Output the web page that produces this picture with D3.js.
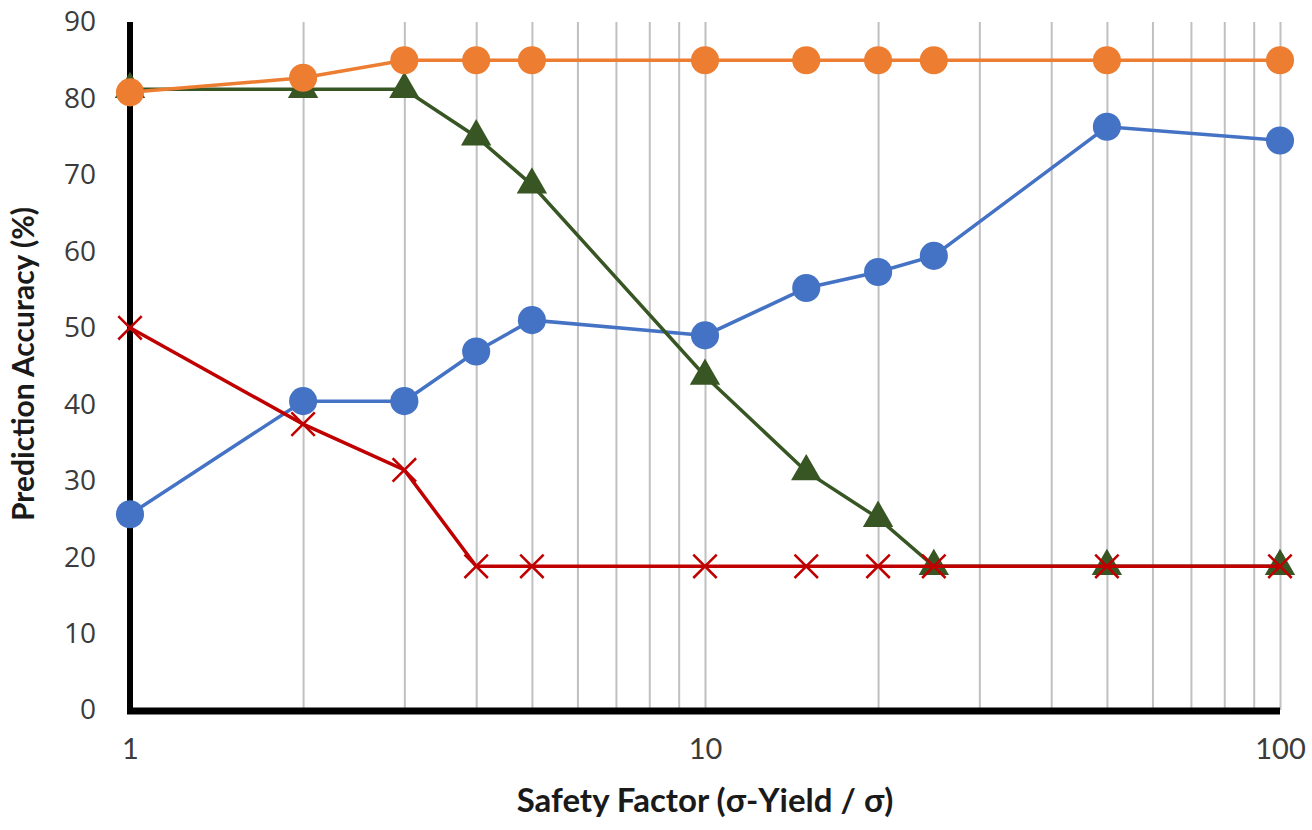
<!DOCTYPE html>
<html>
<head>
<meta charset="utf-8">
<script src="https://cdn.jsdelivr.net/npm/d3@7"></script>
<style>
  body { margin: 0; background: #fff; }
</style>
</head>
<body>
<div id="chart"></div>
<script>
// safety factor values (x) and the four accuracy series (%)
const factors = [1, 2, 3, 4, 5, 10, 15, 20, 25, 50, 100];
const blueVals = [25.6, 40.4, 40.4, 46.9, 51.0, 49.0, 55.2, 57.3, 59.4, 76.3, 74.5];
const orangeVals = [80.8, 82.7, 85.0, 85.0, 85.0, 85.0, 85.0, 85.0, 85.0, 85.0, 85.0];
const greenVals = [81.2, 81.2, 81.2, 75.0, 68.7, 43.7, 31.2, 25.1, 18.8, 18.8, 18.8];
const redVals = [50.0, 37.4, 31.4, 18.8, 18.8, 18.8, 18.8, 18.8, 18.8, 18.8, 18.8];
const yTicks = [0, 10, 20, 30, 40, 50, 60, 70, 80, 90];
const xTicks = [1, 10, 100];
const gridVals = [2, 3, 4, 5, 6, 7, 8, 9, 10, 20, 30, 40, 50, 60, 70, 80, 90, 100];

var margin = {top: 22, right: 32, bottom: 120, left: 130},
    width = 1312 - margin.left - margin.right,
    height = 830 - margin.top - margin.bottom;

var svg = d3.select("#chart").append("svg")
        .attr("width", 1312)
        .attr("height", 830)
    .append("g")
        .attr("transform", "translate(" + margin.left + "," + margin.top + ")");

var x = d3.scaleLog()
    .domain([1, 100])
    .range([0, width]);

var y = d3.scaleLinear()
    .domain([0, 90])
    .range([height, 0]);

// vertical gridlines
svg.append("g")
    .attr("transform", "translate(0," + height + ")")
    .call(d3.axisBottom(x).tickValues(gridVals).tickSize(-height).tickFormat(""))
    .call(g => g.select(".domain").remove())
    .call(g => g.selectAll("line").attr("stroke", "#c0c0c0").attr("stroke-width", 2));

// y axis
svg.append("g")
    .call(d3.axisLeft(y).tickValues(yTicks).tickSize(0).tickPadding(34))
    .call(g => g.select(".domain").remove())
    .call(g => g.selectAll("text")
        .attr("font-family", "'Open Sans', sans-serif")
        .attr("font-size", "28px")
        .attr("fill", "#3b3b3b"));

// x axis
svg.append("g")
    .attr("transform", "translate(0," + height + ")")
    .call(d3.axisBottom(x).tickValues(xTicks).tickSize(0).tickPadding(28).tickFormat(d3.format("d")))
    .call(g => g.select(".domain").remove())
    .call(g => g.selectAll("text")
        .attr("font-family", "Lato, sans-serif")
        .attr("font-size", "29px")
        .attr("fill", "#3b3b3b"));

// thick axis lines
svg.append("line")
    .attr("x1", 0).attr("x2", 0)
    .attr("y1", 0).attr("y2", height + 3)
    .attr("stroke", "#000").attr("stroke-width", 6);
svg.append("line")
    .attr("x1", -3).attr("x2", width)
    .attr("y1", height + 1).attr("y2", height + 1)
    .attr("stroke", "#000").attr("stroke-width", 7);

var series = [
    {vals: blueVals, color: "#4472C4", shape: d3.symbolCircle, size: 620, stroke: false},
    {vals: greenVals, color: "#375623", shape: d3.symbolTriangle, size: 400, stroke: false},
    {vals: orangeVals, color: "#ED7D31", shape: d3.symbolCircle, size: 620, stroke: false},
    {vals: redVals, color: "#C00000", shape: d3.symbolX, size: 360, stroke: true}
];

var line = d3.line()
    .x((d, i) => x(factors[i]))
    .y(d => y(d));

series.forEach((s) => {
    svg.append("path")
        .datum(s.vals)
        .attr("fill", "none")
        .attr("stroke", s.color)
        .attr("stroke-width", 3.5)
        .attr("d", line);

    svg.selectAll(null)
        .data(s.vals)
        .enter()
        .append("path")
            .attr("transform", (d, i) => "translate(" + x(factors[i]) + "," + y(d) + ")")
            .attr("d", d3.symbol(s.shape, s.size))
            .attr("fill", s.stroke ? "none" : s.color)
            .attr("stroke", s.stroke ? s.color : "none")
            .attr("stroke-width", 2.5);
});

// axis titles
svg.append("text")
    .attr("text-anchor", "middle")
    .attr("x", x(10))
    .attr("y", height + 102)
    .attr("font-family", "Lato, sans-serif")
    .attr("font-weight", "bold")
    .attr("font-size", "33px")
    .attr("fill", "#1a1a1a")
    .text("Safety Factor (σ-Yield / σ)");

svg.append("text")
    .attr("text-anchor", "middle")
    .attr("transform", "translate(" + (-96) + "," + (height / 2 - 2) + ") rotate(-90)")
    .attr("font-family", "Lato, sans-serif")
    .attr("font-weight", "bold")
    .attr("font-size", "30px")
    .attr("fill", "#1a1a1a")
    .text("Prediction Accuracy (%)");
</script>
</body>
</html>
